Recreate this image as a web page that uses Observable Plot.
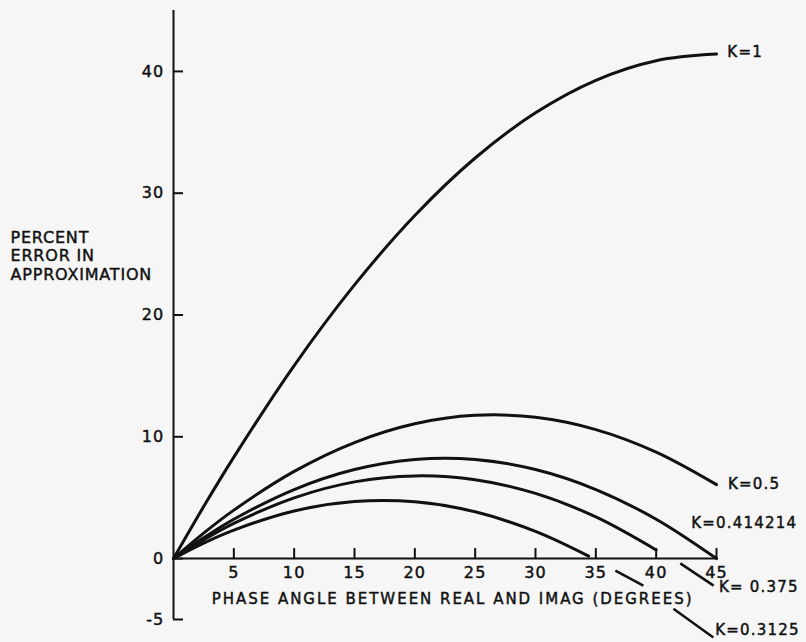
<!DOCTYPE html>
<html>
<head>
<meta charset="utf-8">
<script src="https://cdn.jsdelivr.net/npm/d3@7"></script>
<script src="https://cdn.jsdelivr.net/npm/@observablehq/plot@0.6"></script>
<style>
  html, body { margin: 0; padding: 0; background: #f6f6f6; }
  #chart svg { display: block; }
</style>
</head>
<body>
<div id="chart"></div>
<script>
// Phase angle (degrees) sample points
const angle = [0, 2.5, 5, 10, 15, 20, 25, 30, 35, 40, 45];
const angle0375 = [0, 2.5, 5, 10, 15, 20, 25, 30, 35, 40];
const angle03125 = [0, 2.5, 5, 10, 15, 20, 25, 30, 34.4];

// Percent error in approximation
const errK1 = [0, 4.27, 8.33, 15.85, 22.47, 28.17, 32.89, 36.60, 39.27, 40.88, 41.42];
const errK05 = [0, 2.09, 3.98, 7.16, 9.53, 11.07, 11.76, 11.60, 10.59, 8.74, 6.07];
const errK0414214 = [0, 1.71, 3.23, 5.67, 7.31, 8.14, 8.14, 7.31, 5.67, 3.23, 0];
const errK0375 = [0, 1.54, 2.89, 4.99, 6.30, 6.79, 6.48, 5.35, 3.42, 0.71];
const errK03125 = [0, 1.27, 2.34, 3.91, 4.68, 4.66, 3.84, 2.23, 0.2];

const seriesNames = ["K=1", "K=0.5", "K=0.414214", "K= 0.375", "K=0.3125"];

const xTicks = [5, 10, 15, 20, 25, 30, 35, 40, 45];
const yTicks = [-5, 0, 10, 20, 30, 40];

const xLabel = "PHASE ANGLE BETWEEN REAL AND IMAG (DEGREES)";
const yLabel = "PERCENT\nERROR IN\nAPPROXIMATION";

// Curve label anchor points (data units)
const labelX = [45.9, 45.95, 42.9, 45.2, 44.9];
const labelY = [41.6, 6.1, 2.9, -2.35, -5.9];

// Leader lines from curves to labels
const leaders = [
  {x1: 42.0, y1: -0.39, x2: 44.76, y2: -2.22},
  {x1: 36.62, y1: -0.99, x2: 38.94, y2: -2.22},
  {x1: 41.43, y1: -4.11, x2: 44.74, y2: -6.47}
];

const seriesDefs = [
  [seriesNames[0], angle, errK1],
  [seriesNames[1], angle, errK05],
  [seriesNames[2], angle, errK0414214],
  [seriesNames[3], angle0375, errK0375],
  [seriesNames[4], angle03125, errK03125]
];
const table = seriesDefs.flatMap(([k, xs, ys]) => xs.map((a, i) => ({k, angle: a, err: ys[i]})));
const labels = seriesNames.map((t, i) => ({text: t, x: labelX[i], y: labelY[i]}));

const font = "DejaVu Sans";
const ink = "#111";
const textStyle = {fill: ink, stroke: ink, strokeWidth: 0.45};

const chart = Plot.plot({
  width: 806,
  height: 642,
  marginLeft: 173,
  marginRight: 90,
  marginTop: 10,
  marginBottom: 23,
  style: {background: "#f6f6f6", fontFamily: font, color: ink},
  x: {domain: [0, 45], axis: null},
  y: {domain: [-5, 45], axis: null},
  marks: [
    // axes lines
    Plot.ruleX([0], {y1: -5, y2: 45, stroke: ink, strokeWidth: 2}),
    Plot.ruleY([0], {x1: 0, x2: 45, stroke: ink, strokeWidth: 2}),
    // inward ticks
    Plot.ruleX(xTicks, {x: d => d, y1: 0, y2: 0, insetTop: -10, stroke: ink, strokeWidth: 2}),
    Plot.ruleY(yTicks, {y: d => d, x1: 0, x2: 0, insetRight: -10, stroke: ink, strokeWidth: 2}),
    // tick labels
    Plot.text(xTicks, {x: d => d, y: 0, dy: 14, text: d => String(d), fontSize: 16, ...textStyle}),
    Plot.text(yTicks, {x: 0, y: d => d, dx: -9, textAnchor: "end", text: d => String(d), fontSize: 16, ...textStyle}),
    // curves
    Plot.line(table, {x: "angle", y: "err", z: "k", curve: "catmull-rom", stroke: ink, strokeWidth: 3}),
    // leaders
    Plot.link(leaders, {x1: "x1", y1: "y1", x2: "x2", y2: "y2", stroke: ink, strokeWidth: 2.5}),
    // curve labels
    Plot.text(labels, {x: "x", y: "y", text: "text", textAnchor: "start", fontSize: 15, ...textStyle}),
    // axis titles
    Plot.text([xLabel], {x: 23.1, y: -3.37, text: d => d, fontSize: 15, ...textStyle}),
    Plot.text([yLabel], {x: 0, y: 24.9, dx: -163, text: d => d, textAnchor: "start", lineHeight: 1.16, fontSize: 16, ...textStyle})
  ]
});

d3.select(chart).selectAll("text").style("letter-spacing", "1.2px");
d3.select(chart).selectAll("text").filter(function() { return this.textContent === "PERCENTERROR INAPPROXIMATION"; })
  .style("letter-spacing", "0.8px");
d3.select(chart).selectAll("text").filter(function() { return this.textContent === xLabel; })
  .attr("textLength", 481).attr("lengthAdjust", "spacing");
document.getElementById("chart").appendChild(chart);
</script>
</body>
</html>
